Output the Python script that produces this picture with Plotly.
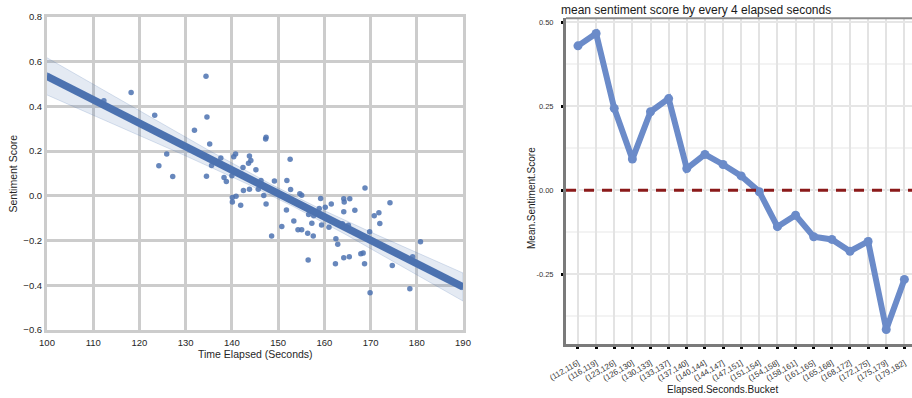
import numpy as np
import plotly.graph_objects as go

W, H = 912, 398

# ---- per-message sentiment against time elapsed (left panel) ----
elapsed = [
    100.0, 112.3, 118.2, 123.3, 124.2, 125.9, 127.2, 131.9, 134.4, 134.6,
    134.5, 135.2, 135.6, 137.6, 138.3, 138.8, 140.0, 140.4, 140.8, 142.4,
    143.6, 143.8, 144.1, 145.2, 146.3, 145.7, 143.8, 142.5, 147.3, 147.4,
    149.2, 151.9, 152.6, 152.7, 154.7, 155.1, 146.9, 168.8, 140.1, 140.1,
    140.9, 141.9, 147.4, 148.6, 150.8, 151.8, 153.4, 154.3, 155.1, 156.4,
    156.5, 156.6, 157.3, 157.6, 157.7, 159.2, 158.9, 159.4, 160.2, 161.0,
    161.5, 162.5, 162.9, 162.4, 164.2, 164.3, 164.2, 164.2, 165.5, 165.4,
    166.6, 167.9, 168.4, 168.7, 169.8, 169.9, 170.8, 171.8, 172.0, 174.2,
    174.7, 178.5, 179.1, 180.8, 190.0, 163.9, 165.2,
]
sentiment = [
    0.540, 0.425, 0.462, 0.360, 0.135, 0.187, 0.087, 0.293, 0.535, 0.353,
    0.088, 0.232, 0.136, 0.169, 0.082, 0.064, 0.090, 0.175, 0.187, 0.127,
    0.146, 0.178, 0.158, 0.117, 0.069, 0.030, 0.030, 0.024, 0.254, 0.262,
    0.066, 0.069, 0.164, 0.028, 0.009, 0.003, 0.002, 0.035, -0.007, -0.027,
    -0.002, -0.042, -0.036, -0.180, -0.137, -0.063, -0.112, -0.152, -0.152, -0.167,
    -0.287, -0.083, -0.122, -0.179, -0.089, -0.012, -0.057, -0.130, -0.051, -0.140,
    -0.036, -0.192, -0.217, -0.304, -0.013, -0.027, -0.071, -0.277, -0.013, -0.272,
    -0.064, -0.259, -0.256, -0.304, -0.161, -0.433, -0.089, -0.076, -0.124, -0.031,
    -0.311, -0.415, -0.272, -0.205, -0.409, -0.125, -0.131,
]

left_xticks = [100, 110, 120, 130, 140, 150, 160, 170, 180, 190]
left_yticks = [0.8, 0.6, 0.4, 0.2, 0.0, -0.2, -0.4, -0.6]
left_yticktext = ["0.8", "0.6", "0.4", "0.2", "0.0", "\u22120.2", "\u22120.4", "\u22120.6"]

# ---- mean sentiment per 4-second bucket (right panel) ----
buckets = [
    "(112,116]", "(116,119]", "(123,126]", "(126,130]", "(130,133]",
    "(133,137]", "(137,140]", "(140,144]", "(144,147]", "(147,151]",
    "(151,154]", "(154,158]", "(158,161]", "(161,165]", "(165,168]",
    "(168,172]", "(172,175]", "(175,179]", "(179,182]",
]
bucket_means = [
    0.430, 0.467, 0.244, 0.093, 0.234, 0.273, 0.065, 0.107, 0.077, 0.043,
    -0.004, -0.108, -0.074, -0.138, -0.146, -0.181, -0.152, -0.414, -0.265,
]
right_yticks = [-0.25, 0.0, 0.25, 0.5]
right_yticktext = ["-0.25", "0.00", "0.25", "0.50"]
right_yminor = [-0.375, -0.125, 0.125, 0.375]

# ---- least-squares fit with 95% confidence band ----
xa = np.array(elapsed)
ya = np.array(sentiment)
slope, intercept = np.polyfit(xa, ya, 1)
xgrid = np.linspace(left_xticks[0], left_xticks[-1], 120)
yfit = intercept + slope * xgrid
resid = ya - (intercept + slope * xa)
n = len(xa)
s = np.sqrt(np.sum(resid ** 2) / (n - 2))
se = s * np.sqrt(1.0 / n + (xgrid - xa.mean()) ** 2 / np.sum((xa - xa.mean()) ** 2))
upper = yfit + 1.99 * se
lower = yfit - 1.99 * se


def px_x(p):
    return p / W


def px_y(p):
    return 1 - p / H


FONT = "Liberation Sans, Arial, sans-serif"
BLUE = "#4c72b0"

fig = go.Figure()

fig.add_trace(go.Scatter(
    x=np.concatenate([xgrid, xgrid[::-1]]),
    y=np.concatenate([upper, lower[::-1]]),
    fill="toself", fillcolor="rgba(76,114,176,0.15)",
    line=dict(color="rgba(76,114,176,0.25)", width=0.8),
    hoverinfo="skip", showlegend=False, xaxis="x", yaxis="y",
))
fig.add_trace(go.Scatter(
    x=xa, y=ya, mode="markers",
    marker=dict(color=BLUE, size=5.5, opacity=0.85, line=dict(width=0)),
    showlegend=False, xaxis="x", yaxis="y",
))
fig.add_trace(go.Scatter(
    x=xgrid, y=yfit, mode="lines",
    line=dict(color=BLUE, width=7.5),
    showlegend=False, xaxis="x", yaxis="y",
))

LINE2 = "#6b8bc9"
fig.add_trace(go.Scatter(
    x=buckets, y=bucket_means, mode="lines+markers",
    line=dict(color=LINE2, width=6),
    marker=dict(color=LINE2, size=9),
    showlegend=False, xaxis="x2", yaxis="y2",
))

fig.update_layout(
    width=W, height=H,
    margin=dict(l=0, r=0, t=0, b=0, autoexpand=False),
    paper_bgcolor="white", plot_bgcolor="white",
    font=dict(family=FONT, color="#262626"),
    xaxis=dict(
        domain=[px_x(47), px_x(463)], range=[100, 190], automargin=False,
        tickvals=left_xticks, ticktext=[str(v) for v in left_xticks],
        showgrid=True, gridcolor="#cccccc", gridwidth=2.5,
        showline=True, mirror=True, linecolor="#cccccc", linewidth=3,
        zeroline=False, ticks="", tickfont=dict(size=9.5, color="#262626"),
        ticklabelstandoff=2,
        anchor="y",
    ),
    yaxis=dict(
        domain=[px_y(330), px_y(17)], range=[-0.6, 0.8], automargin=False,
        tickvals=left_yticks, ticktext=left_yticktext,
        showgrid=True, gridcolor="#cccccc", gridwidth=2.5,
        showline=True, mirror=True, linecolor="#cccccc", linewidth=3,
        zeroline=False, ticks="", tickfont=dict(size=9.5, color="#262626"),
        anchor="x",
    ),
    xaxis2=dict(
        domain=[px_x(566), 1.0], type="category", automargin=False,
        categoryorder="array", categoryarray=buckets,
        range=[-0.66, 18.42],
        showgrid=True, gridcolor="#e3e3e3", gridwidth=2,
        showline=True, linecolor="#7a7a7a", linewidth=3,
        zeroline=False, ticks="outside", ticklen=2, tickwidth=3, tickcolor="#000000",
        tickangle=-30, tickfont=dict(size=8, color="#333333"),
        ticklabelstandoff=6,
        anchor="y2",
    ),
    yaxis2=dict(
        domain=[px_y(344.3), px_y(18.3)], range=[-0.458, 0.512], automargin=False,
        tickvals=right_yticks, ticktext=right_yticktext,
        showgrid=True, gridcolor="#e6e6e6", gridwidth=1.5,
        minor=dict(tickvals=right_yminor, showgrid=True, gridcolor="#f3f3f3",
                   gridwidth=1.5, ticks=""),
        showline=True, linecolor="#7a7a7a", linewidth=3,
        zeroline=False, ticks="outside", ticklen=2, tickwidth=3, tickcolor="#000000",
        tickfont=dict(size=7.5, color="#333333"),
        ticklabelstandoff=6,
        anchor="x2",
    ),
    shapes=[
        dict(type="line", xref="x2 domain", yref="y2", x0=0, x1=1, y0=0, y1=0,
             line=dict(color="#8b1a1a", width=3, dash="10px,8px"), layer="above"),
        dict(type="line", xref="paper", yref="paper",
             x0=px_x(566), x1=1.0, y0=px_y(18.3), y1=px_y(18.3),
             line=dict(color="#8c8c8c", width=2)),
    ],
    annotations=[
        dict(text="Time Elapsed (Seconds)", xref="paper", yref="paper",
             x=px_x(255), y=px_y(354), xanchor="center", yanchor="middle",
             showarrow=False, font=dict(size=10.5, color="#262626")),
        dict(text="Sentiment Score", xref="paper", yref="paper",
             x=px_x(12), y=px_y(173.5), xanchor="center", yanchor="middle",
             textangle=-90, showarrow=False, font=dict(size=10.5, color="#262626")),
        dict(text="mean sentiment score by every 4 elapsed seconds", xref="paper", yref="paper",
             x=px_x(559), y=px_y(9.5), xanchor="left", yanchor="middle",
             showarrow=False, font=dict(size=12, color="#1a1a1a")),
        dict(text="Elapsed.Seconds.Bucket", xref="paper", yref="paper",
             x=px_x(722), y=px_y(389), xanchor="center", yanchor="middle",
             showarrow=False, font=dict(size=10, color="#1a1a1a")),
        dict(text="Mean.Sentiment.Score", xref="paper", yref="paper",
             x=px_x(531), y=px_y(198), xanchor="center", yanchor="middle",
             textangle=-90, showarrow=False, font=dict(size=10, color="#1a1a1a")),
    ],
)

fig.write_html("out.html")
